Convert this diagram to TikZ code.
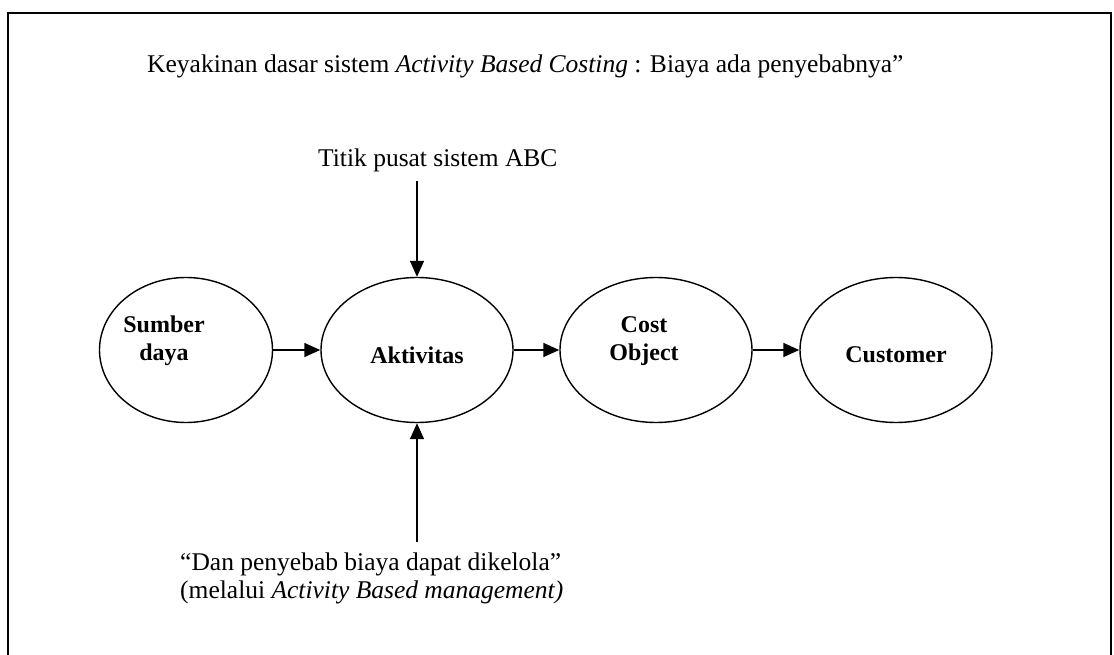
\documentclass[tikz,border=0pt]{standalone}
\usepackage{fontspec}
\setmainfont{Liberation Serif}
\usetikzlibrary{arrows.meta,shapes.geometric}
\begin{document}
\begin{tikzpicture}[x=1pt,y=-1pt,
  oval/.style={draw,ellipse,line width=1.4pt,inner sep=0pt,minimum width=192pt,minimum height=145pt},
  lbl/.style={font=\fontsize{24}{28}\selectfont\bfseries,align=center,inner sep=0pt},
  txt/.style={font=\fontsize{25.5}{30}\selectfont,inner sep=0pt},
  arr/.style={line width=1.4pt,-{Triangle[length=16pt,width=14pt]}}]
\useasboundingbox (0,0) rectangle (1114,655);
\clip (0,0) rectangle (1114,655);
\fill[white] (0,0) rectangle (1114,655);
\draw[line width=2pt] (8,13) rectangle (1111,700);
% ellipses
\node[oval,minimum width=173pt] (e1) at (186,350) {};
\node[oval] (e2) at (417,350) {};
\node[oval] (e3) at (656,350) {};
\node[oval] (e4) at (896,350) {};
% labels
\node[lbl] (l1) at (164,341) {Sumber\\daya};
\node[lbl] (l2) at (417,355) {Aktivitas};
\node[lbl] (l3) at (644,341) {Cost\\Object};
\node[lbl] (l4) at (896,355) {Customer};
% texts
\node[txt,anchor=base west] (title) at (147,72.5) {Keyakinan dasar sistem \textit{Activity Based Costing} : Biaya ada penyebabnya”};
\node[txt,anchor=base west] (top) at (318,167) {Titik pusat sistem ABC};
\node[txt,anchor=base west] (b1) at (180,570) {“Dan penyebab biaya dapat dikelola”};
\node[txt,anchor=base west] (b2) at (180,598) {(melalui \textit{Activity Based management)}};
\coordinate (ctop) at (417,181);
\coordinate (cbot) at (417,542);
% connectors
\draw[arr] (e1.east) -- (e2.west);
\draw[arr] (e2.east) -- (e3.west);
\draw[arr] (e3.east) -- (e4.west);
\draw[arr] (ctop) -- (e2.north);
\draw[arr] (cbot) -- (e2.south);
\end{tikzpicture}
\end{document}
